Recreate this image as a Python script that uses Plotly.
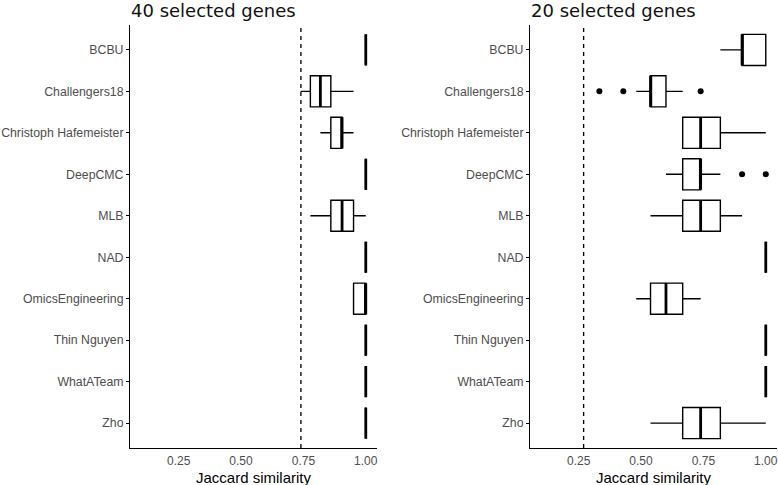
import plotly.graph_objects as go

# ---------------- data ----------------
teams = ["BCBU", "Challengers18", "Christoph Hafemeister", "DeepCMC", "MLB",
         "NAD", "OmicsEngineering", "Thin Nguyen", "WhatATeam", "Zho"]

# 40 selected genes
g40_lower  = [1.0, 0.739, 0.818, 1.0, 0.778, 1.0, 0.951, 1.0, 1.0, 1.0]
g40_q1     = [1.0, 0.778, 0.860, 1.0, 0.860, 1.0, 0.951, 1.0, 1.0, 1.0]
g40_median = [1.0, 0.818, 0.905, 1.0, 0.905, 1.0, 1.0, 1.0, 1.0, 1.0]
g40_q3     = [1.0, 0.860, 0.905, 1.0, 0.951, 1.0, 1.0, 1.0, 1.0, 1.0]
g40_upper  = [1.0, 0.951, 0.951, 1.0, 1.0, 1.0, 1.0, 1.0, 1.0, 1.0]
g40_out_team = []
g40_out_val = []
g40_threshold = 0.74

# 20 selected genes
g20_lower  = [0.818, 0.481, 0.667, 0.600, 0.538, 1.0, 0.481, 1.0, 1.0, 0.538]
g20_q1     = [0.905, 0.538, 0.667, 0.667, 0.667, 1.0, 0.538, 1.0, 1.0, 0.667]
g20_median = [0.905, 0.538, 0.739, 0.739, 0.739, 1.0, 0.600, 1.0, 1.0, 0.739]
g20_q3     = [1.0, 0.600, 0.818, 0.739, 0.818, 1.0, 0.667, 1.0, 1.0, 0.818]
g20_upper  = [1.0, 0.667, 1.0, 0.818, 0.905, 1.0, 0.739, 1.0, 1.0, 1.0]
g20_out_team = ["Challengers18", "Challengers18", "Challengers18", "DeepCMC", "DeepCMC"]
g20_out_val = [0.333, 0.429, 0.739, 0.905, 1.0]
g20_threshold = 0.27

panel_titles = ["40 selected genes", "20 selected genes"]
x_title = "Jaccard similarity"
x_ticks = [0.25, 0.50, 0.75, 1.00]
x_ticktext = ["0.25", "0.50", "0.75", "1.00"]

# ---------------- figure ----------------
W, H = 778, 485
FONT = "Liberation Sans"
BOX_W = 0.75
pos = list(range(len(teams)))
idx = {t: i for i, t in enumerate(teams)}

fig = go.Figure()

panels = [
    (g40_lower, g40_q1, g40_median, g40_q3, g40_upper, g40_out_team, g40_out_val, g40_threshold),
    (g20_lower, g20_q1, g20_median, g20_q3, g20_upper, g20_out_team, g20_out_val, g20_threshold),
]

for k, (lo, q1, med, q3, up, ot, ov, thr) in enumerate(panels):
    xa = "x" if k == 0 else "x2"
    ya = "y" if k == 0 else "y2"
    fig.add_trace(go.Box(
        orientation="h", y=pos, q1=q1, median=med, q3=q3,
        lowerfence=lo, upperfence=up, width=BOX_W,
        fillcolor="white", line=dict(color="black", width=1.4),
        whiskerwidth=0, boxpoints=False, xaxis=xa, yaxis=ya,
        showlegend=False, hoverinfo="skip"))
    # thicker median line (ggplot fatten)
    mx, my = [], []
    for i, m in enumerate(med):
        mx += [m, m, None]
        my += [i - BOX_W / 2, i + BOX_W / 2, None]
    fig.add_trace(go.Scatter(x=mx, y=my, mode="lines",
                             line=dict(color="black", width=2.8),
                             xaxis=xa, yaxis=ya, showlegend=False, hoverinfo="skip"))
    if ov:
        fig.add_trace(go.Scatter(x=ov, y=[idx[t] for t in ot], mode="markers",
                                 marker=dict(color="black", size=6),
                                 xaxis=xa, yaxis=ya, showlegend=False, hoverinfo="skip"))
    # dashed threshold line
    fig.add_shape(type="line", xref=xa, yref=("y domain" if k == 0 else "y2 domain"),
                  x0=thr, x1=thr, y0=0, y1=1,
                  line=dict(color="black", width=1.3, dash="4px,4px"))

ydom = [1 - 448 / H, 1 - 25 / H]
xdoms = [[130 / W, 377 / W], [530 / W, 777 / W]]

axis_common_x = dict(
    range=[0.055, 1.045], tickvals=x_ticks, ticktext=x_ticktext, automargin=False,
    showline=True, linecolor="black", linewidth=1.1, showgrid=False, zeroline=False,
    ticks="outside", ticklen=2, tickcolor="rgba(0,0,0,0)",
    tickfont=dict(family=FONT, size=12, color="#4d4d4d"),
)
axis_common_y = dict(
    range=[len(teams) - 0.4, -0.6], tickvals=pos, ticktext=teams, automargin=False,
    showline=True, linecolor="black", linewidth=1.1, showgrid=False, zeroline=False,
    ticks="outside", ticklen=3, tickwidth=1.1, tickcolor="black",
    tickfont=dict(family=FONT, size=12.3, color="#4d4d4d"), domain=ydom,
)

fig.update_layout(
    width=W, height=H, margin=dict(l=0, r=0, t=0, b=0),
    paper_bgcolor="white", plot_bgcolor="white",
    xaxis=dict(domain=xdoms[0], anchor="y", **axis_common_x),
    xaxis2=dict(domain=xdoms[1], anchor="y2", **axis_common_x),
    yaxis=dict(anchor="x", **axis_common_y),
    yaxis2=dict(anchor="x2", **axis_common_y),
)

for k, t in enumerate(panel_titles):
    fig.add_annotation(text=t, xref="paper", yref="paper",
                       x=xdoms[k][0] - 1 / W, y=1 + 2 / H, xanchor="left", yanchor="top",
                       showarrow=False,
                       font=dict(family="DejaVu Sans", size=18, color="#111111"))
    fig.add_annotation(text=x_title, xref="paper", yref="paper",
                       x=(xdoms[k][0] + xdoms[k][1]) / 2, y=1 - 477 / H,
                       xanchor="center", yanchor="middle", showarrow=False,
                       font=dict(family=FONT, size=15, color="black"))

fig.write_html("out.html", config={"displayModeBar": False},
               post_script="document.body.style.margin='0';document.body.style.overflow='hidden';")
